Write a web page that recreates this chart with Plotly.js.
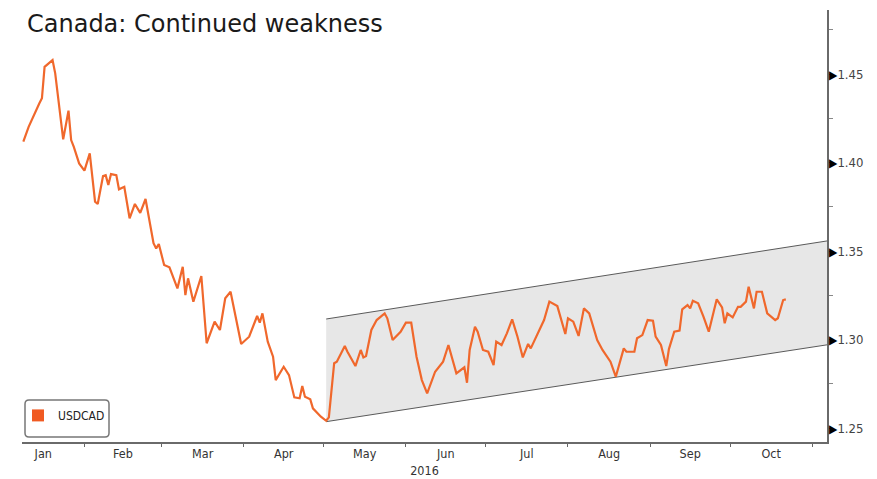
<!DOCTYPE html>
<html>
<head>
<meta charset="utf-8">
<script src="https://cdn.plot.ly/plotly-3.0.1.min.js"></script>
<style>
  html, body { margin: 0; padding: 0; background: #fff; }
  #chart { width: 877px; height: 479px; }
</style>
</head>
<body>
<div id="chart"></div>
<script>
// USDCAD spot, 2016
const dates = [
  '2016-01-09','2016-01-11','2016-01-15','2016-01-16','2016-01-17','2016-01-20','2016-01-21','2016-01-23',
  '2016-01-24','2016-01-26','2016-01-27','2016-01-28','2016-01-30','2016-02-01','2016-02-03','2016-02-05',
  '2016-02-06','2016-02-08','2016-02-09','2016-02-10','2016-02-11','2016-02-13','2016-02-14','2016-02-16',
  '2016-02-18','2016-02-20','2016-02-22','2016-02-24','2016-02-27','2016-02-28','2016-02-29','2016-03-02',
  '2016-03-04','2016-03-07','2016-03-09','2016-03-10','2016-03-11','2016-03-13','2016-03-16','2016-03-18',
  '2016-03-21','2016-03-23','2016-03-25','2016-03-27','2016-03-31','2016-04-03','2016-04-06','2016-04-07',
  '2016-04-08','2016-04-10','2016-04-12','2016-04-13','2016-04-16','2016-04-18','2016-04-20','2016-04-22',
  '2016-04-23','2016-04-24','2016-04-26','2016-04-27','2016-04-30','2016-05-02','2016-05-03','2016-05-05',
  '2016-05-06','2016-05-09','2016-05-10','2016-05-13','2016-05-15','2016-05-16','2016-05-17','2016-05-19',
  '2016-05-21','2016-05-24','2016-05-25','2016-05-27','2016-05-29','2016-05-30','2016-06-01','2016-06-03',
  '2016-06-05','2016-06-07','2016-06-09','2016-06-12','2016-06-15','2016-06-17','2016-06-20','2016-06-23',
  '2016-06-24','2016-06-25','2016-06-27','2016-06-28','2016-06-30','2016-07-02','2016-07-04','2016-07-05',
  '2016-07-07','2016-07-09','2016-07-11','2016-07-13','2016-07-15','2016-07-17','2016-07-18','2016-07-20',
  '2016-07-23','2016-07-25','2016-07-27','2016-07-28','2016-07-31','2016-08-01','2016-08-03','2016-08-05',
  '2016-08-07','2016-08-09','2016-08-12','2016-08-14','2016-08-17','2016-08-19','2016-08-22','2016-08-23',
  '2016-08-26','2016-08-27','2016-08-29','2016-08-31','2016-09-02','2016-09-03','2016-09-05','2016-09-07',
  '2016-09-08','2016-09-10','2016-09-12','2016-09-13','2016-09-15','2016-09-16','2016-09-17','2016-09-19',
  '2016-09-21','2016-09-23','2016-09-25','2016-09-26','2016-09-28','2016-09-29','2016-09-30','2016-10-02',
  '2016-10-04','2016-10-05','2016-10-07','2016-10-08','2016-10-10','2016-10-11','2016-10-13','2016-10-15',
  '2016-10-18','2016-10-19','2016-10-21','2016-10-22'
];
const usdcad = [
  1.4118,1.4202,1.4334,1.4363,1.4541,1.4579,1.4504,1.4259,
  1.4131,1.4293,1.4127,1.4089,1.3995,1.3954,1.4052,1.3779,
  1.3766,1.3924,1.3929,1.3873,1.3935,1.3929,1.3849,1.3863,
  1.3685,1.3766,1.3716,1.3794,1.3544,1.3515,1.3540,1.3421,
  1.3408,1.3289,1.3411,1.3251,1.3346,1.3214,1.3359,1.2979,
  1.3101,1.3054,1.3233,1.3270,1.2975,1.3016,1.3133,1.3095,
  1.3148,1.2988,1.2903,1.2771,1.2846,1.2799,1.2673,1.2668,
  1.2737,1.2677,1.2662,1.2611,1.2564,1.2541,1.2560,1.2866,
  1.2875,1.2963,1.2931,1.2850,1.2941,1.2899,1.2907,1.3054,
  1.3110,1.3148,1.3120,1.2997,1.3025,1.3044,1.3095,1.3095,
  1.2903,1.2771,1.2696,1.2818,1.2875,1.2969,1.2809,1.2843,
  1.2756,1.2941,1.3072,1.3044,1.2941,1.2931,1.2856,1.2988,
  1.2969,1.3035,1.3114,1.3016,1.2899,1.2975,1.2950,1.3016,
  1.3110,1.3214,1.3195,1.3189,1.3031,1.3120,1.3101,1.3020,
  1.3176,1.3148,1.2997,1.2941,1.2875,1.2790,1.2950,1.2931,
  1.2931,1.3007,1.3025,1.3110,1.3106,1.3016,1.2969,1.2850,
  1.2946,1.3044,1.3050,1.3171,1.3195,1.3176,1.3219,1.3205,
  1.3129,1.3044,1.3167,1.3227,1.3182,1.3092,1.3148,1.3125,
  1.3185,1.3185,1.3214,1.3298,1.3176,1.3270,1.3270,1.3148,
  1.3110,1.3120,1.3223,1.3227
];

// Rising channel drawn from the May low
const channelDates = ['2016-05-02', '2016-11-06 12:00'];
const channelLower = [1.2536, 1.2970];
const channelUpper = [1.3116, 1.3557];

// Axis ticks
const yTickValues = [1.25, 1.30, 1.35, 1.40, 1.45];
const yTickLabels = ['1.25', '1.30', '1.35', '1.40', '1.45'];
const xRange = ['2016-01-08 12:00', '2016-11-06 12:00'];
const yRange = [1.2421, 1.4862];
const yearLabel = '2016';
const seriesName = 'USDCAD';
const chartTitle = 'Canada: Continued weakness';

const narrowFont = "'DejaVu Sans Condensed', 'Liberation Sans Narrow', 'DejaVu Sans', sans-serif";
const orange = '#f0682c';

const traces = [
  {
    x: channelDates, y: channelLower, type: 'scatter', mode: 'lines',
    line: { color: '#5a5a5a', width: 1 }, showlegend: false, hoverinfo: 'skip'
  },
  {
    x: channelDates, y: channelUpper, type: 'scatter', mode: 'lines',
    fill: 'tonexty', fillcolor: '#e7e7e7',
    line: { color: '#5a5a5a', width: 1 }, showlegend: false, hoverinfo: 'skip'
  },
  {
    x: dates, y: usdcad, type: 'scatter', mode: 'lines', name: seriesName,
    line: { color: orange, width: 2.2 }, showlegend: false
  },
  {
    // legend swatch
    x: [null], y: [null], type: 'bar', name: seriesName,
    marker: { color: '#f05a22' }, showlegend: true, hoverinfo: 'skip'
  }
];

const layout = {
  width: 877,
  height: 479,
  margin: { l: 22, r: 50, t: 10, b: 37 },
  paper_bgcolor: '#ffffff',
  plot_bgcolor: '#ffffff',
  title: {
    text: chartTitle,
    x: 27 / 877, xref: 'container', xanchor: 'left',
    y: 1 - 24 / 479, yref: 'container', yanchor: 'middle',
    font: { family: "'DejaVu Sans', sans-serif", size: 24, color: '#1a1a1a' }
  },
  xaxis: {
    type: 'date',
    range: xRange,
    tick0: '2016-01-01',
    dtick: 'M1',
    tickformat: '%b',
    ticklabelmode: 'period',
    ticks: 'outside',
    ticklen: 3,
    tickcolor: '#666',
    ticklabelstandoff: -4,
    showline: true,
    linecolor: '#6a6a6a',
    linewidth: 1.5,
    showgrid: false,
    zeroline: false,
    tickfont: { family: narrowFont, size: 12.5, color: '#333' },
    title: { text: yearLabel, standoff: 6, font: { family: narrowFont, size: 12.5, color: '#333' } }
  },
  yaxis: {
    side: 'right',
    range: yRange,
    tickmode: 'array',
    tickvals: yTickValues,
    ticktext: yTickLabels.map(t => '<span style="font-size:12px;fill:#000">&#9654;</span>' + t),
    ticks: '',
    ticklabelstandoff: -2,
    showline: true,
    linecolor: '#6a6a6a',
    linewidth: 1.5,
    showgrid: false,
    zeroline: false,
    minor: { tick0: 1.25, dtick: 0.025, ticks: 'outside', ticklen: 4, tickcolor: '#888', showgrid: false },
    tickfont: { family: narrowFont, size: 13, color: '#444' }
  },
  shapes: [
    {
      // rounded frame around the legend
      type: 'path', layer: 'above',
      xref: 'paper', xsizemode: 'pixel', xanchor: 0,
      yref: 'paper', ysizemode: 'pixel', yanchor: 0,
      path: 'M 7,5 L 83,5 Q 87,5 87,9 L 87,38 Q 87,42 83,42 L 7,42 Q 3,42 3,38 L 3,9 Q 3,5 7,5 Z',
      line: { color: '#777', width: 1.5 },
      fillcolor: 'rgba(255,255,255,0)'
    }
  ],
  showlegend: true,
  legend: {
    x: -0.005, y: 0.028, xanchor: 'left', yanchor: 'bottom',
    bgcolor: 'rgba(255,255,255,0)', borderwidth: 0,
    font: { family: narrowFont, size: 12, color: '#222' },
    itemwidth: 30
  }
};

Plotly.newPlot('chart', traces, layout, { displayModeBar: false, staticPlot: true });
</script>
</body>
</html>
